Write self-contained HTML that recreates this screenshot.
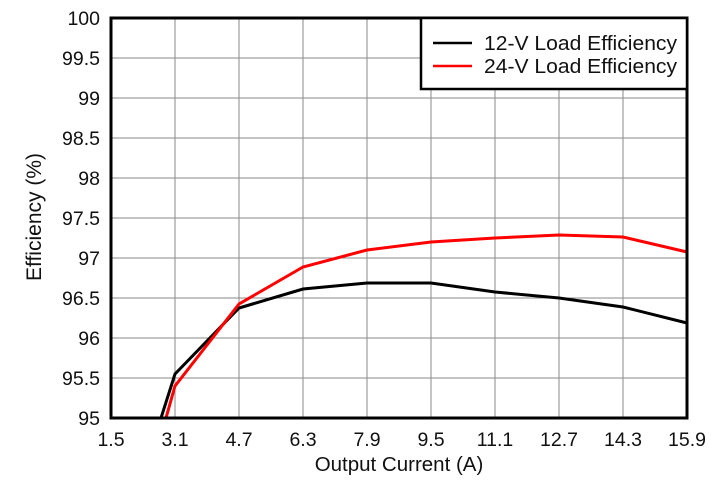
<!DOCTYPE html><html><head><style>body{margin:0;background:#fff}</style></head><body>
<svg width="717" height="483" xmlns="http://www.w3.org/2000/svg" font-family="Liberation Sans, Arial, sans-serif">
<rect width="717" height="483" fill="#fff"/>
<g stroke="#888" stroke-width="1">
<line x1="175" y1="18" x2="175" y2="418"/><line x1="239" y1="18" x2="239" y2="418"/><line x1="303" y1="18" x2="303" y2="418"/><line x1="367" y1="18" x2="367" y2="418"/><line x1="431" y1="18" x2="431" y2="418"/><line x1="495" y1="18" x2="495" y2="418"/><line x1="559" y1="18" x2="559" y2="418"/><line x1="623" y1="18" x2="623" y2="418"/>
<line x1="111" y1="58" x2="687" y2="58"/><line x1="111" y1="98" x2="687" y2="98"/><line x1="111" y1="138" x2="687" y2="138"/><line x1="111" y1="178" x2="687" y2="178"/><line x1="111" y1="218" x2="687" y2="218"/><line x1="111" y1="258" x2="687" y2="258"/><line x1="111" y1="298" x2="687" y2="298"/><line x1="111" y1="338" x2="687" y2="338"/><line x1="111" y1="378" x2="687" y2="378"/>
</g>
<polyline fill="none" stroke="#000" stroke-width="3" points="161,418 175,374 239,308 303,289 367,283 431,283 495,292 559,298 623,307 687,323"/>
<polyline fill="none" stroke="#f00" stroke-width="3" points="166,418 175,386 239,304 303,267 367,250 431,242 495,238 559,235 623,237 687,252"/>
<rect x="111" y="18" width="576" height="400" fill="none" stroke="#000" stroke-width="3"/>
<rect x="421" y="18" width="266" height="71" fill="#fff" stroke="#000" stroke-width="2.5"/>
<line x1="433" y1="43" x2="472" y2="43" stroke="#000" stroke-width="2.5"/>
<line x1="433" y1="66" x2="472" y2="66" stroke="#f00" stroke-width="2.5"/>
<g font-size="20" fill="#111">
<text x="484" y="50" textLength="193" lengthAdjust="spacingAndGlyphs">12-V Load Efficiency</text>
<text x="484" y="73" textLength="193" lengthAdjust="spacingAndGlyphs">24-V Load Efficiency</text>
</g>
<g font-size="19.5" fill="#111" text-anchor="end">
<text x="100" y="25">100</text><text x="100" y="65">99.5</text><text x="100" y="105">99</text><text x="100" y="145">98.5</text><text x="100" y="185">98</text><text x="100" y="225">97.5</text><text x="100" y="265">97</text><text x="100" y="305">96.5</text><text x="100" y="345">96</text><text x="100" y="385">95.5</text><text x="100" y="425">95</text>
</g>
<g font-size="19.5" fill="#111" text-anchor="middle">
<text x="111" y="446">1.5</text><text x="175" y="446">3.1</text><text x="239" y="446">4.7</text><text x="303" y="446">6.3</text><text x="367" y="446">7.9</text><text x="431" y="446">9.5</text><text x="495" y="446">11.1</text><text x="559" y="446">12.7</text><text x="623" y="446">14.3</text><text x="687" y="446">15.9</text>
<text x="399" y="471" font-size="20.5">Output Current (A)</text>
<text x="0" y="0" font-size="21" transform="translate(41,217) rotate(-90)">Efficiency (%)</text>
</g>
</svg>
</body></html>
